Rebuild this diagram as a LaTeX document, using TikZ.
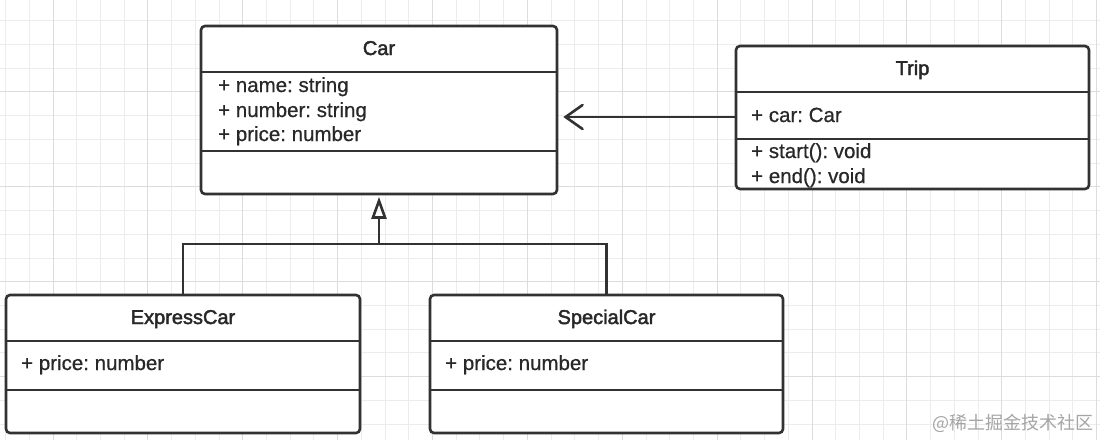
\documentclass[tikz,border=0pt]{standalone}
\usepackage{fontspec}
\setmainfont{Liberation Sans}
\newfontfamily\titlefam{Liberation Sans}[FakeBold=2.2]
\newfontfamily\memberfam{Liberation Sans}[FakeBold=0.6]
\newfontfamily\cjkfont{Noto Sans CJK SC}
\usepackage{xcolor}
\definecolor{BoxBorder}{RGB}{50,50,50}
\definecolor{BoxText}{RGB}{40,40,40}
\definecolor{GridMinor}{RGB}{236,236,236}
\definecolor{GridMajor}{RGB}{220,220,220}
\definecolor{MarkGray}{RGB}{165,165,165}
\usetikzlibrary{
  arrows.meta,
  calc
}
\frenchspacing
\newcommand\titlefont{\titlefam\fontsize{20}{23}\selectfont}
\newcommand\memberfont{\memberfam\fontsize{20.5}{23}\selectfont}
\tikzset{
  % Class outline
  classbox/.style={
    draw=BoxBorder,
    fill=white,
    line width=2.6pt,
    rounded corners=4pt,
    inner sep=0pt
  },
  % Compartment divider
  divider/.style={
    draw=BoxBorder,
    line width=2.6pt
  },
  % Class name
  cname/.style={
    font=\titlefont,
    text=BoxText,
    anchor=base,
    inner sep=0pt
  },
  % Attribute / method line
  member/.style={
    font=\memberfont,
    text=BoxText,
    anchor=base west,
    inner sep=0pt
  },
  % Association
  assoc/.style={
    draw=BoxBorder,
    line width=2.6pt,
    -{Straight Barb[length=17pt,width=24pt,line cap=round]}
  },
  % Generalization
  gen/.style={
    draw=BoxBorder,
    line width=2.6pt
  },
  % Grid lines
  gminor/.style={draw=GridMinor, line width=1pt},
  gmajor/.style={draw=GridMajor, line width=1pt}
}

\begin{document}
\begin{tikzpicture}[x=1pt,y=-1pt]
  \useasboundingbox (0,0) rectangle (1100,440);
  \fill[white] (0,0) rectangle (1100,440);

  % grid
  \foreach \i in {0,...,46} {
    \draw[gminor] ({5.56+23.72*\i},0) -- ({5.56+23.72*\i},440);
  }
  \foreach \j in {1,...,18} {
    \draw[gminor] (0,{-2.9+23.72*\j}) -- (1100,{-2.9+23.72*\j});
  }
  \foreach \i in {2,6,...,46} {
    \draw[gmajor] ({5.56+23.72*\i},0) -- ({5.56+23.72*\i},440);
  }
  \foreach \j in {4,8,...,16} {
    \draw[gmajor] (0,{-2.9+23.72*\j}) -- (1100,{-2.9+23.72*\j});
  }

  % Car
  \node[classbox, minimum width=356pt, minimum height=168pt] (car) at (379,110) {};
  \draw[divider] (car.west |- 0,72) -- (car.east |- 0,72);
  \draw[divider] (car.west |- 0,151) -- (car.east |- 0,151);
  \node[cname] (carname) at (379,55) {Car};
  \node[member] (cara1) at (218,92) {+ name: string};
  \node[member] (cara2) at (218,117) {+ number: string};
  \node[member] (cara3) at (218,141) {+ price: number};

  % Trip
  \node[classbox, minimum width=353pt, minimum height=143pt] (trip) at (912.5,117.5) {};
  \draw[divider] (trip.west |- 0,92) -- (trip.east |- 0,92);
  \draw[divider] (trip.west |- 0,139) -- (trip.east |- 0,139);
  \node[cname] (tripname) at (912.5,75) {Trip};
  \node[member] (tripa1) at (751,122) {+ car: Car};
  \node[member] (tripm1) at (751,158) {+ start(): void};
  \node[member] (tripm2) at (751,183) {+ end(): void};

  % ExpressCar
  \node[classbox, minimum width=354pt, minimum height=138pt] (express) at (183,364) {};
  \draw[divider] (express.west |- 0,341) -- (express.east |- 0,341);
  \draw[divider] (express.west |- 0,390) -- (express.east |- 0,390);
  \node[cname] (expressname) at (183,324) {ExpressCar};
  \node[member] (expressa1) at (21,370) {+ price: number};

  % SpecialCar
  \node[classbox, minimum width=353pt, minimum height=138pt] (special) at (606.5,364) {};
  \draw[divider] (special.west |- 0,341) -- (special.east |- 0,341);
  \draw[divider] (special.west |- 0,390) -- (special.east |- 0,390);
  \node[cname] (specialname) at (606.5,324) {SpecialCar};
  \node[member] (speciala1) at (445,370) {+ price: number};

  % associations
  \draw[assoc, shorten >=5pt] (trip.west |- 0,117) -- (car.east |- 0,117);
  \coordinate (joint) at (379,244);
  \draw[gen] (express.north) |- (joint) -| (special.north);
  \draw[gen, -{Triangle[open,length=22pt,width=15pt]}, shorten >=1.5pt] (joint) -- (car.south);

  % watermark
  \node[font=\cjkfont\fontsize{18}{20}\selectfont, text=MarkGray, anchor=east, inner sep=0pt] (mark) at (1094,423) {@稀土掘金技术社区};
\end{tikzpicture}
\end{document}
